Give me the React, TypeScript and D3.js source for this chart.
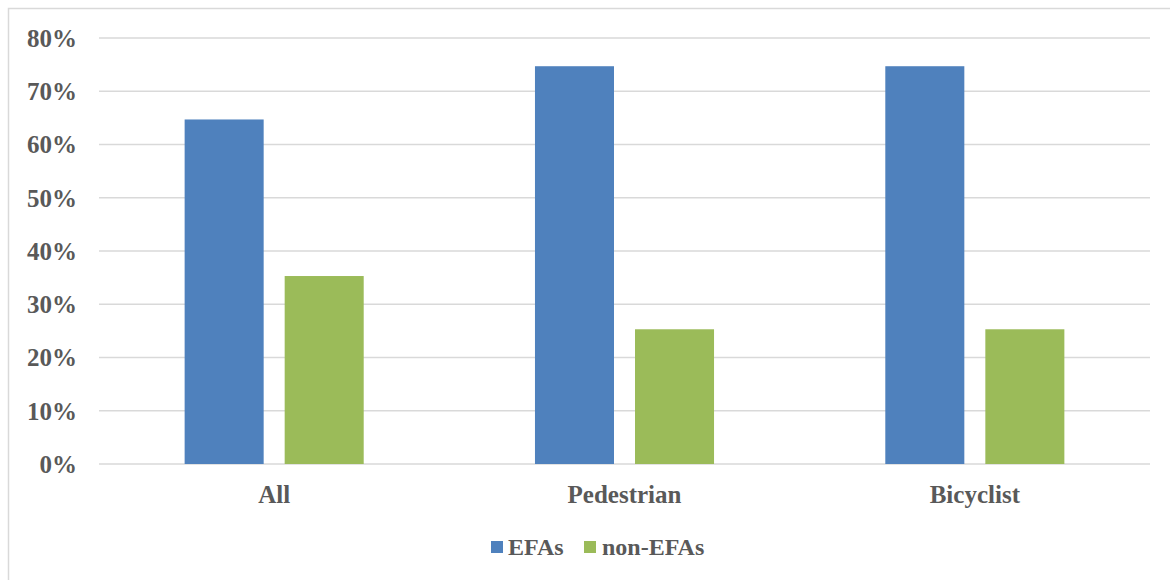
import React from 'react';
import * as d3 from 'd3';

const categories = ['All', 'Pedestrian', 'Bicyclist'];
const series = ['EFAs', 'non-EFAs'];
const efas = [64.7, 74.7, 74.7];
const nonEfas = [35.3, 25.3, 25.3];
const yTicks = [0, 10, 20, 30, 40, 50, 60, 70, 80];
const colors = ['#4f81bd', '#9bbb59'];

const W = 1170;
const H = 580;
const margin = { left: 99, right: 20, top: 38, bottom: 116 };
const font = '"Liberation Serif", "Times New Roman", serif';
const textColor = '#595959';

export default function App() {
  const x = d3.scaleBand().domain(categories).range([margin.left, W - margin.right]);
  const y = d3.scaleLinear().domain([0, 80]).range([H - margin.bottom, margin.top]);
  const inner = d3.scaleBand().domain(series).range([0, x.bandwidth()]).paddingInner(0.21).paddingOuter(0.856);
  const values = [efas, nonEfas];

  return (
    <svg width={W} height={H} style={{ position: 'absolute', left: 0, top: 0 }}>
      <rect x={0} y={0} width={W} height={H} fill="#fff" />
      <rect x={8.5} y={8.5} width={W + 20} height={H + 20} fill="none" stroke="#d9d9d9" strokeWidth={1.5} />
      {/* grid + y labels */}
      {yTicks.map((t) => (
        <g key={t}>
          <line x1={margin.left} x2={W - margin.right} y1={y(t)} y2={y(t)} stroke="#d9d9d9" strokeWidth={1.5} />
          <text x={77} y={y(t)} dy="0.35em" textAnchor="end" fontFamily={font} fontWeight="bold" fontSize={25} fill={textColor}>
            {t}%
          </text>
        </g>
      ))}
      {/* bars */}
      {categories.map((c, i) => (
        <g key={c} transform={`translate(${x(c)},0)`}>
          {series.map((s, j) => (
            <rect key={s} x={inner(s)} width={inner.bandwidth()} y={y(values[j][i])} height={y(0) - y(values[j][i])} fill={colors[j]} />
          ))}
          <text x={x.bandwidth() / 2} y={503} textAnchor="middle" fontFamily={font} fontWeight="bold" fontSize={25} fill={textColor}>
            {c}
          </text>
        </g>
      ))}
      {/* legend */}
      <g>
        <rect x={491} y={541} width={12} height={12} fill={colors[0]} />
        <text x={508} y={555} fontFamily={font} fontWeight="bold" fontSize={24} fill={textColor}>{series[0]}</text>
        <rect x={584} y={541} width={12} height={12} fill={colors[1]} />
        <text x={602} y={555} fontFamily={font} fontWeight="bold" fontSize={24} fill={textColor}>{series[1]}</text>
      </g>
    </svg>
  );
}
